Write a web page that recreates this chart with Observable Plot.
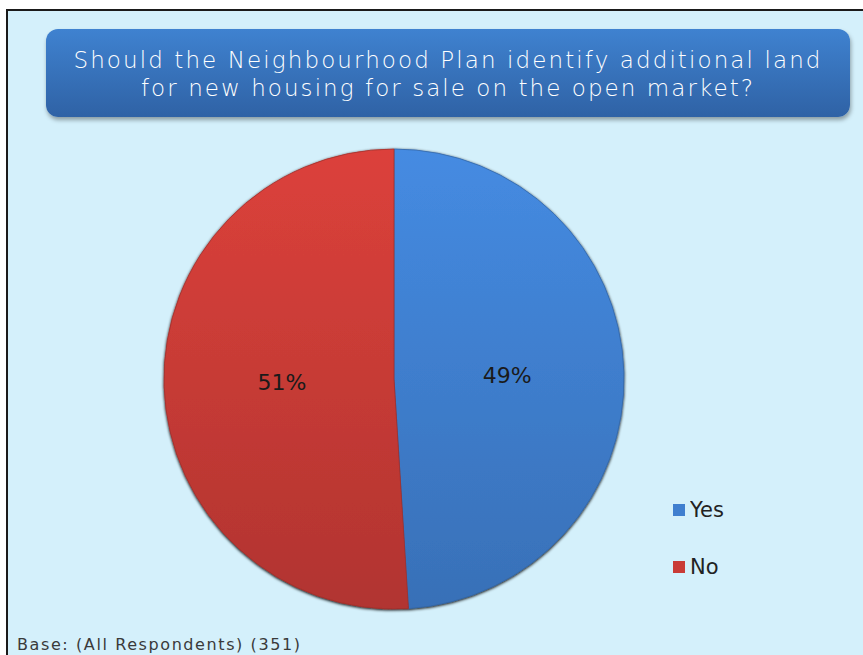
<!DOCTYPE html>
<html>
<head>
<meta charset="utf-8">
<script src="https://cdn.jsdelivr.net/npm/d3@7"></script>
<script src="https://cdn.jsdelivr.net/npm/@observablehq/plot@0.6"></script>
<style>
  html, body { margin: 0; padding: 0; background: #ffffff; }
  #page { position: relative; width: 863px; height: 655px; overflow: hidden; }
  #frame { position: absolute; left: 6px; top: 9px; width: 900px; height: 700px;
           background: #d4f0fb; border-left: 2px solid #1a1a1a; border-top: 2px solid #1a1a1a; }
  #title { position: absolute; left: 46px; top: 29px; width: 804px; height: 88px;
           border-radius: 12px; background: linear-gradient(#3f82d0, #2f62a5);
           box-shadow: 1px 3px 4px rgba(0,0,0,0.35);
           color: #ffffff; font-family: "DejaVu Sans", sans-serif; font-weight: 300; font-size: 23px;
           text-align: center; box-sizing: border-box; padding-top: 17px; }
  #title div { line-height: 28px; white-space: nowrap; }
  #chart { position: absolute; left: 0; top: 0; }
  #legend { position: absolute; left: 673px; top: 499px; }
  #caption { position: absolute; left: 17px; top: 636px; font-family: "DejaVu Sans", sans-serif;
             font-size: 16px; line-height: 18px; color: #3a3a3a; white-space: nowrap; }
  .leg-swatch { margin: 0 0 35px 0 !important; padding: 0 !important; height: 22px !important;
                font-family: "DejaVu Sans", sans-serif !important; font-size: 21px !important; color: #222 !important; }
  .leg-swatch svg { margin-right: 5px !important; }
</style>
</head>
<body>
<div id="page">
  <div id="frame"></div>
  <div id="title"><div class="fit" data-w="747">Should the Neighbourhood Plan identify additional land</div><div class="fit" data-w="612">for new housing for sale on the open market?</div></div>
  <div id="chart"></div>
  <div id="legend"></div>
  <div id="caption" class="fit" data-w="283">Base: (All Respondents) (351)</div>
</div>
<script>
// ---- data ----
const categories = ["Yes", "No"];
const shares = [49, 51];
const colors = ["#3f7fcf", "#c93b36"];

// ---- layout ----
const W = 863, H = 655;
const cx = 394, cy = 379, R = 230;

const slices = categories.map((c, i) => ({label: c, value: shares[i]}));
const arcs = d3.pie().sort(null).value(d => d.value)(slices);
// label anchor in unit-circle coordinates (angle measured clockwise from 12 o'clock)
const labelR = 0.49;
const labels = arcs.map(a => {
  const m = (a.startAngle + a.endAngle) / 2;
  return {label: a.data.label, text: a.data.value + "%", ux: labelR * Math.sin(m), uy: labelR * Math.cos(m)};
});

function pieMark(index, scales) {
  const x0 = scales.x(0), y0 = scales.y(0), r = scales.x(1) - scales.x(0);
  const g = d3.create("svg:g");
  const defs = g.append("defs");
  const arc = d3.arc().innerRadius(0).outerRadius(r);
  arcs.forEach((a, i) => {
    const base = d3.color(scales.color(a.data.label));
    const grad = defs.append("linearGradient").attr("id", "grad" + i)
      .attr("x1", 0).attr("y1", 0).attr("x2", 0).attr("y2", 1);
    grad.append("stop").attr("offset", "0%").attr("stop-color", base.brighter(0.25).formatHex());
    grad.append("stop").attr("offset", "100%").attr("stop-color", base.darker(0.35).formatHex());
  });
  const filt = defs.append("filter").attr("id", "pshadow").attr("x", "-10%").attr("y", "-10%").attr("width", "120%").attr("height", "120%");
  filt.append("feGaussianBlur").attr("in", "SourceAlpha").attr("stdDeviation", 1.5);
  filt.append("feOffset").attr("dx", 0).attr("dy", 1).attr("result", "b");
  const fm = filt.append("feMerge");
  fm.append("feMergeNode").attr("in", "b");
  fm.append("feMergeNode").attr("in", "SourceGraphic");
  const pg = g.append("g").attr("transform", `translate(${x0},${y0})`).attr("filter", "url(#pshadow)");
  arcs.forEach((a, i) => {
    pg.append("path").attr("d", arc(a))
      .attr("fill", `url(#grad${i})`)
      .attr("stroke", d3.color(scales.color(a.data.label)).darker(0.6).formatHex())
      .attr("stroke-width", 0.8);
  });
  return g.node();
}

const chart = Plot.plot({
  width: W,
  height: H,
  margin: 0,
  style: {background: "transparent", overflow: "visible"},
  x: {type: "linear", domain: [-1, 1], range: [cx - R, cx + R], axis: null},
  y: {type: "linear", domain: [-1, 1], range: [cy + R, cy - R], axis: null},
  color: {domain: categories, range: colors},
  marks: [
    pieMark,
    Plot.text(labels, {x: "ux", y: "uy", text: "text", fontSize: 22,
      fontFamily: "DejaVu Sans", fill: "#1a1a1a"})
  ]
});
document.getElementById("chart").appendChild(chart);

const leg = chart.legend("color", {columns: 1, swatchSize: 12, className: "leg"});
document.getElementById("legend").appendChild(leg);

// fit text widths to the reference
const cvs = document.createElement("canvas").getContext("2d");
document.querySelectorAll(".fit").forEach(el => {
  const cs = getComputedStyle(el);
  cvs.font = `${cs.fontWeight} ${cs.fontSize} ${cs.fontFamily}`;
  const t = el.textContent;
  const w = cvs.measureText(t).width;
  const target = +el.dataset.w;
  el.style.letterSpacing = ((target - w) / (t.length - 1)) + "px";
});
</script>
</body>
</html>
